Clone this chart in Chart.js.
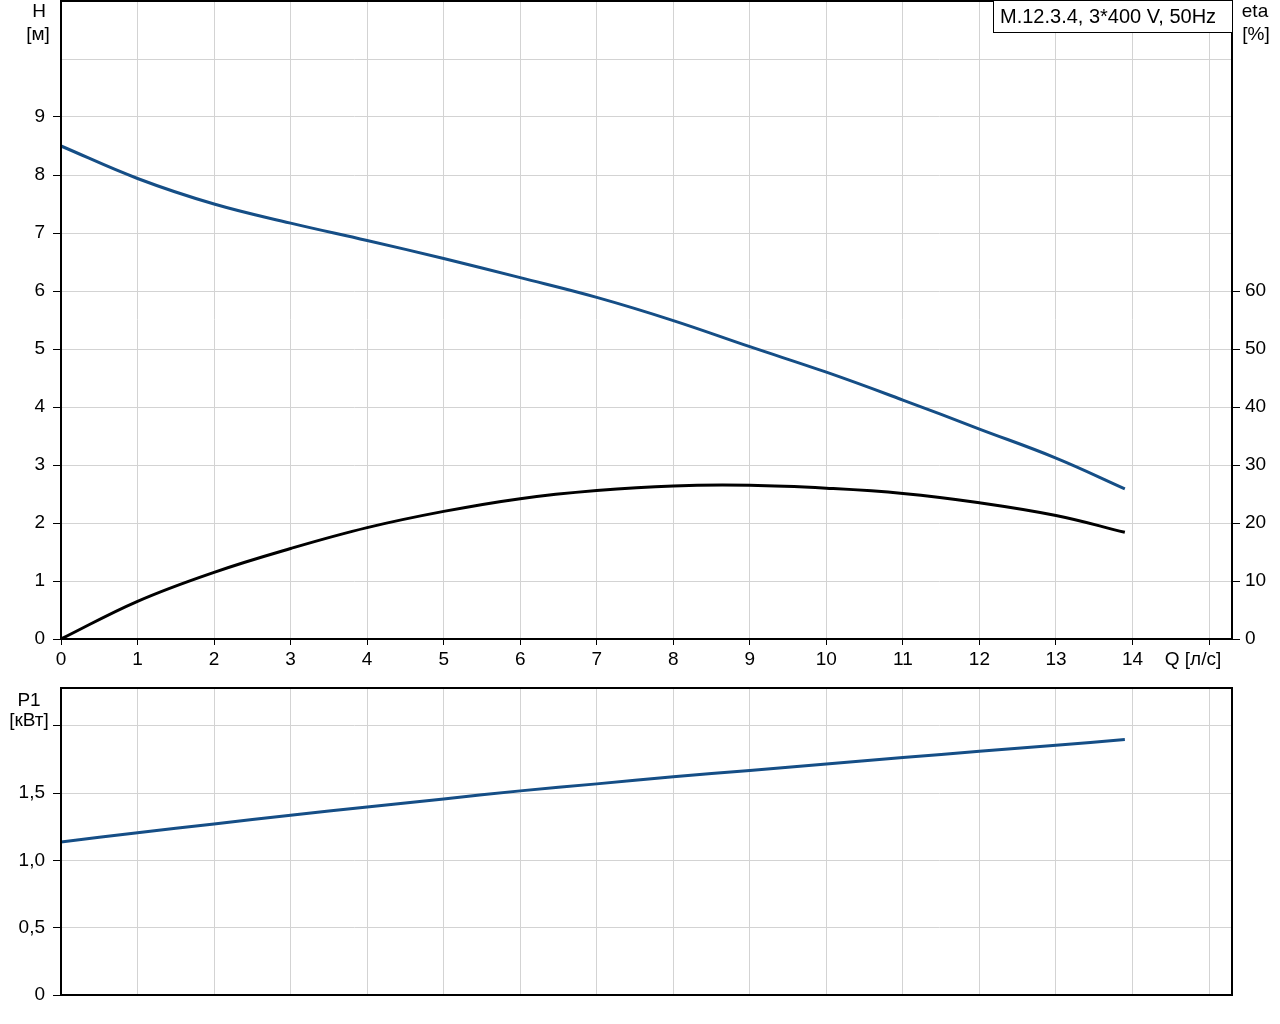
<!DOCTYPE html>
<html>
<head>
<meta charset="utf-8">
<title>M.12.3.4 pump curves</title>
<script src="https://cdn.jsdelivr.net/npm/chart.js@4.4.0/dist/chart.umd.min.js"></script>
<style>
  html, body { margin: 0; padding: 0; background: #fff; }
  #wrap { position: relative; width: 1280px; height: 1024px; }
  #topBox { position: absolute; left: 0; top: 0; width: 1280px; height: 680px; }
  #bottomBox { position: absolute; left: 0; top: 680px; width: 1280px; height: 344px; }
</style>
</head>
<body>
<div id="wrap">
  <div id="topBox"><canvas id="curveChart"></canvas></div>
  <div id="bottomBox"><canvas id="powerChart"></canvas></div>
</div>
<script>
// ===== Data =====
const flowQ   = [0, 1, 2, 3, 4, 5, 6, 7, 8, 9, 10, 11, 12, 13, 13.9];
const headH   = [8.5, 7.94, 7.50, 7.17, 6.87, 6.56, 6.23, 5.89, 5.49, 5.04, 4.60, 4.12, 3.62, 3.12, 2.59];
const etaPct  = [0, 6.5, 11.5, 15.6, 19.2, 22.0, 24.2, 25.6, 26.4, 26.5, 26.0, 25.1, 23.5, 21.3, 18.4];
const powerP1 = [1.137, 1.205, 1.27, 1.335, 1.397, 1.456, 1.516, 1.568, 1.62, 1.668, 1.716, 1.763, 1.81, 1.855, 1.897];

const qTickLabels   = ["0","1","2","3","4","5","6","7","8","9","10","11","12","13","14"];
const hTickLabels   = ["0","1","2","3","4","5","6","7","8","9"];
const etaTickLabels = ["0","10","20","30","40","50","60"];
const p1TickLabels  = ["0","0,5","1,0","1,5"];

const pumpLabel = "M.12.3.4, 3*400 V, 50Hz";

const BLUE = "#154e86";
const GRID = "#d3d3d3";
const FAMILY = "'Liberation Sans', Arial, sans-serif";
const tickFont = { family: FAMILY, size: 19 };

const toPoints = (ys) => flowQ.map((q, i) => ({ x: q, y: ys[i] }));

// frame + free text drawn on the canvas
const axisText = {
  id: "axisText",
  afterDraw(chart, args, opts) {
    const { ctx, chartArea: a } = chart;
    ctx.save();
    ctx.strokeStyle = "#000";
    ctx.lineWidth = 2;
    ctx.strokeRect(a.left, a.top, a.right - a.left, a.bottom - a.top);
    if (opts.box) {
      const b = opts.box;
      ctx.fillStyle = "#fff";
      ctx.fillRect(b.x, b.y, b.w, b.h);
      ctx.lineWidth = 1;
      ctx.strokeRect(b.x + 0.5, b.y + 0.5, b.w, b.h);
      ctx.fillStyle = "#000";
      ctx.font = "20px " + FAMILY;
      ctx.textAlign = "left";
      ctx.textBaseline = "alphabetic";
      ctx.fillText(b.text, b.x + 7, b.y + 23);
    }
    ctx.fillStyle = "#000";
    ctx.font = "19px " + FAMILY;
    ctx.textAlign = "center";
    ctx.textBaseline = "alphabetic";
    (opts.items || []).forEach(t => ctx.fillText(t.text, t.x, t.y));
    ctx.restore();
  }
};

const tickByList = (list, step) => (v) => {
  const idx = Math.round(v / step);
  return Math.abs(idx * step - v) < 1e-6 && idx < list.length ? list[idx] : "";
};
const tickColorUpTo = (limit) => (c) => (c.tick && c.tick.value <= limit + 1e-6 ? "#000" : "rgba(0,0,0,0)");

// ===== Top chart: H and eta =====
new Chart(document.getElementById("curveChart"), {
  type: "line",
  data: {
    datasets: [
      { label: "H", data: toPoints(headH), borderColor: BLUE, borderWidth: 3, pointRadius: 0,
        tension: 0.4, yAxisID: "y" },
      { label: "eta", data: toPoints(etaPct), borderColor: "#000", borderWidth: 3, pointRadius: 0,
        tension: 0.4, yAxisID: "eta" }
    ]
  },
  options: {
    responsive: true,
    maintainAspectRatio: false,
    animation: false,
    layout: { padding: { top: 1, left: 0, right: 0, bottom: 0 } },
    plugins: {
      legend: { display: false },
      tooltip: { enabled: false },
      axisText: {
        box: { x: 993, y: 0, w: 239, h: 32, text: pumpLabel },
        items: [
          { text: "H", x: 39, y: 17 },
          { text: "[м]", x: 38, y: 40 },
          { text: "eta", x: 1255, y: 17 },
          { text: "[%]", x: 1256, y: 40 },
          { text: "Q [л/с]", x: 1193, y: 665 }
        ]
      }
    },
    scales: {
      x: {
        type: "linear", min: 0, max: 15.3,
        border: { color: "#000", width: 2 },
        grid: { color: GRID, tickColor: "#000", tickLength: 6 },
        ticks: { stepSize: 1, includeBounds: false, autoSkip: false, maxRotation: 0,
                 font: tickFont, color: "#000", padding: 3,
                 callback: tickByList(qTickLabels, 1) },
        afterFit: (s) => { s.height = 41; s.paddingLeft = 0; s.paddingRight = 0; }
      },
      y: {
        position: "left", min: 0, max: 11,
        border: { color: "#000", width: 2 },
        grid: { color: GRID, tickColor: tickColorUpTo(9), tickLength: 8 },
        ticks: { stepSize: 1, includeBounds: false, font: tickFont, color: "#000", padding: 8,
                 callback: tickByList(hTickLabels, 1) },
        afterFit: (s) => { s.width = 61; s.paddingTop = 0; s.paddingBottom = 0; }
      },
      eta: {
        position: "right", min: 0, max: 110,
        border: { color: "#000", width: 2 },
        grid: { drawOnChartArea: false, tickColor: tickColorUpTo(60), tickLength: 8 },
        ticks: { stepSize: 10, includeBounds: false, font: tickFont, color: "#000", padding: 5,
                 callback: tickByList(etaTickLabels, 10) },
        afterFit: (s) => { s.width = 48; s.paddingTop = 0; s.paddingBottom = 0; }
      }
    }
  },
  plugins: [axisText]
});

// ===== Bottom chart: P1 =====
new Chart(document.getElementById("powerChart"), {
  type: "line",
  data: {
    datasets: [
      { label: "P1", data: toPoints(powerP1), borderColor: BLUE, borderWidth: 3, pointRadius: 0,
        tension: 0.4 }
    ]
  },
  options: {
    responsive: true,
    maintainAspectRatio: false,
    animation: false,
    layout: { padding: { top: 8, left: 0, right: 48, bottom: 0 } },
    plugins: {
      legend: { display: false },
      tooltip: { enabled: false },
      axisText: {
        items: [
          { text: "P1", x: 29, y: 26 },
          { text: "[кВт]", x: 29, y: 46 }
        ]
      }
    },
    scales: {
      x: {
        type: "linear", min: 0, max: 15.3,
        border: { color: "#000", width: 2 },
        grid: { color: GRID, drawTicks: false },
        ticks: { stepSize: 1, includeBounds: false, display: false },
        afterFit: (s) => { s.height = 29; s.paddingLeft = 0; s.paddingRight = 0; }
      },
      y: {
        position: "left", min: 0, max: 2.28,
        border: { color: "#000", width: 2 },
        grid: { color: GRID, tickColor: "#000", tickLength: 8 },
        ticks: { stepSize: 0.5, includeBounds: false, font: tickFont, color: "#000", padding: 8,
                 callback: tickByList(p1TickLabels, 0.5) },
        afterFit: (s) => { s.width = 61; s.paddingTop = 0; s.paddingBottom = 0; }
      }
    }
  },
  plugins: [axisText]
});
</script>
</body>
</html>
